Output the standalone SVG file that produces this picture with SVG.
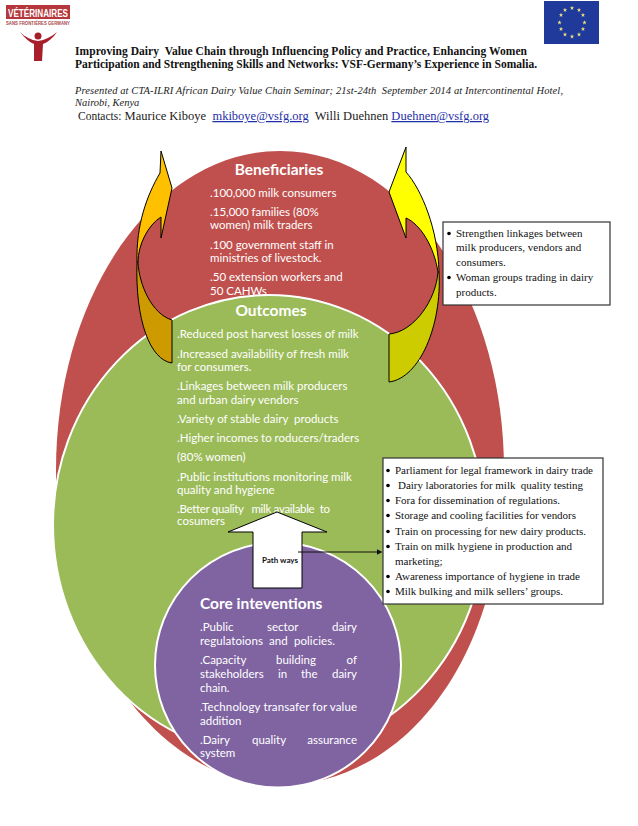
<svg xmlns="http://www.w3.org/2000/svg" width="638" height="826" viewBox="0 0 638 826">
<style>
text{white-space:pre}
.ti{font:bold 11.5px "Liberation Serif",serif;fill:#111}
.it{font:italic 10.5px "Liberation Serif",serif;fill:#222}
.co{font:12.500px "Liberation Serif",serif;fill:#222}
.ln{fill:#1f2fa8;text-decoration:underline}
.w{font:11.500px Lato,"Open Sans",sans-serif;fill:#fff}
.h{font:bold 15.500px Lato,"Open Sans",sans-serif;fill:#fff}
.b{font:11px "Liberation Serif",serif;fill:#111}
.ar{stroke:#000;stroke-width:1;stroke-linejoin:miter}
.box{fill:#fff;stroke:#333;stroke-width:1.2}
</style>
<defs><polygon id="s" points="0,-2.2 .6,-.7 2.1,-.7 .9,.3 1.4,1.9 0,.9 -1.4,1.9 -.9,.3 -2.1,-.7 -.6,-.7" fill="#e8dc80"/></defs>
<rect width="638" height="826" fill="#fff"/>
<g id="logo">
<rect x="6" y="5" width="64" height="14" fill="#b5373c"/>
<text x="8" y="16.500" textLength="60" lengthAdjust="spacingAndGlyphs" style="font:bold 11px 'Liberation Sans',sans-serif;fill:#fff">VÉTÉRINAIRES</text>
<text x="6" y="25" textLength="64" lengthAdjust="spacingAndGlyphs" style="font:bold 4.500px 'Liberation Sans',sans-serif;fill:#a8484c">SANS FRONTIÈRES GERMANY</text>
<circle cx="38" cy="36" r="3.500" fill="#a81e2a"/>
<path d="M20 32 C27 41 32 43 34 44 L34 61 L42 61 L43 44 C48 42 53 38 57 32 C51 37 45 40 38 41 C31 40 25 37 20 32Z" fill="#a81e2a"/>
</g>
<g id="flag">
<rect x="544" y="1" width="55" height="43" fill="#1f3a9a"/>
<use href="#s" x="572" y="8"/><use href="#s" x="579" y="10"/><use href="#s" x="583" y="15"/><use href="#s" x="584.500" y="22.500"/><use href="#s" x="583" y="29"/><use href="#s" x="579" y="34.500"/><use href="#s" x="572" y="36.500"/><use href="#s" x="565" y="34.500"/><use href="#s" x="561" y="29"/><use href="#s" x="559.500" y="22.500"/><use href="#s" x="561" y="15"/><use href="#s" x="565" y="10"/>
</g>
<g id="header">
<text class="ti" x="75" y="55" textLength="452">Improving Dairy  Value Chain through Influencing Policy and Practice, Enhancing Women</text>
<text class="ti" x="75" y="68" textLength="462">Participation and Strengthening Skills and Networks: VSF-Germany’s Experience in Somalia.</text>
<text class="it" x="75" y="94" textLength="488">Presented at CTA-ILRI African Dairy Value Chain Seminar; 21st-24th  September 2014 at Intercontinental Hotel,</text>
<text class="it" x="75" y="106">Nairobi, Kenya</text>
<text class="co" x="78" y="120"><tspan style="font-size:11.500px">Contacts:</tspan> Maurice Kiboye  <tspan class="ln">mkiboye@vsfg.org</tspan>  Willi Duehnen <tspan class="ln">Duehnen@vsfg.org</tspan></text>
</g>
<g id="beneficiaries-circle"><path d="M280 151 C404 151 504 294 504 470 C504 665 400 785 280 785 C165 785 56 650 56 470 C56 294 156 151 280 151Z" fill="#c0504d"/></g>
<g id="outcomes-circle"><ellipse cx="269" cy="525" rx="216" ry="230" fill="#9bbb59" stroke="#fff" stroke-width="2"/></g>
<g id="arrow-left">
<path class="ar" fill="#ffc000" d="M161 151 L172 188 L161 238 L161 217 C148 225 138 245 138 262 L137 262 C136 225 147 195 160 173 Z"/>
<path class="ar" fill="#cd9a00" d="M138 262 C139 285 152 314 172 320 L172 363 C150 360 135 320 137 262 Z"/>
</g>
<g id="arrow-right">
<path class="ar" fill="#ffff00" d="M406 147 L406 172 C422 190 438 230 439 272 L438 272 C434 246 420 224 406 218 L406 238 L389 192 Z"/>
<path class="ar" fill="#cccc00" d="M438 272 C436 300 414 332 389 334 L389 382 C420 378 442 325 439 272 Z"/>
</g>
<g id="core-circle"><ellipse cx="278" cy="665" rx="123" ry="122.500" fill="#8064a2" stroke="#fff" stroke-width="2"/></g>
<g id="beneficiaries-text">
<text class="h" x="279" y="175" text-anchor="middle">Beneficiaries</text>
<text class="w" x="210" y="197">.100,000 milk consumers</text>
<text class="w" x="210" y="216">.15,000 families (80%</text>
<text class="w" x="210" y="229">women) milk traders</text>
<text class="w" x="210" y="249">.100 government staff in</text>
<text class="w" x="210" y="262">ministries of livestock.</text>
<text class="w" x="210" y="281">.50 extension workers and</text>
<text class="w" x="210" y="295">50 CAHWs</text>
</g>
<g id="outcomes-text">
<text class="h" x="271" y="316" text-anchor="middle">Outcomes</text>
<text class="w" x="177" y="338">.Reduced post harvest losses of milk</text>
<text class="w" x="177" y="358">.Increased availability of fresh milk</text>
<text class="w" x="177" y="371">for consumers.</text>
<text class="w" x="177" y="390">.Linkages between milk producers</text>
<text class="w" x="177" y="404">and urban dairy vendors</text>
<text class="w" x="177" y="423">.Variety of stable dairy  products</text>
<text class="w" x="177" y="442">.Higher incomes to roducers/traders</text>
<text class="w" x="177" y="461">(80% women)</text>
<text class="w" x="177" y="481">.Public institutions monitoring milk</text>
<text class="w" x="177" y="494">quality and hygiene</text>
<text class="w" x="177" y="513" textLength="153">.Better quality   milk available  to</text>
<text class="w" x="177" y="525">cosumers</text>
</g>
<g id="pathways">
<path d="M277 512 L327 532 H302 V588 H253 V532 H228 Z" fill="#fff" stroke="#000" stroke-width="1"/>
<text x="280" y="563" text-anchor="middle" style="font:bold 8px Lato,sans-serif;fill:#111">Path ways</text>
</g>
<g id="core-text">
<text class="h" x="200" y="609">Core inteventions</text>
<text class="w" x="200" y="631">.Public</text><text class="w" x="267" y="631">sector</text><text class="w" x="357" y="631" text-anchor="end">dairy</text>
<text class="w" x="200" y="645" textLength="135">regulatoions  and  policies.</text>
<text class="w" x="200" y="664">.Capacity</text><text class="w" x="276" y="664">building</text><text class="w" x="357" y="664" text-anchor="end">of</text>
<text class="w" x="200" y="678">stakeholders</text><text class="w" x="278" y="678">in</text><text class="w" x="301" y="678">the</text><text class="w" x="357" y="678" text-anchor="end">dairy</text>
<text class="w" x="200" y="692">chain.</text>
<text class="w" x="200" y="711" textLength="157">.Technology transafer for value</text>
<text class="w" x="200" y="725">addition</text>
<text class="w" x="200" y="744">.Dairy</text><text class="w" x="252" y="744">quality</text><text class="w" x="357" y="744" text-anchor="end">assurance</text>
<text class="w" x="200" y="757">system</text>
</g>
<g id="box-top">
<rect class="box" x="443" y="222" width="167" height="83"/>
<g fill="#000"><circle cx="449" cy="233.500" r="1.800"/><circle cx="449" cy="277.500" r="1.800"/></g>
<text class="b" x="456" y="237">Strengthen linkages between</text>
<text class="b" x="456" y="251">milk producers, vendors and</text>
<text class="b" x="456" y="266">consumers.</text>
<text class="b" x="456" y="281">Woman groups trading in dairy</text>
<text class="b" x="456" y="296">products.</text>
</g>
<g id="box-right">
<rect class="box" x="383" y="458" width="220" height="146"/>
<g fill="#000"><circle cx="388" cy="470.500" r="1.800"/><circle cx="388" cy="485.500" r="1.800"/><circle cx="388" cy="500.500" r="1.800"/><circle cx="388" cy="515.500" r="1.800"/><circle cx="388" cy="531.500" r="1.800"/><circle cx="388" cy="546.500" r="1.800"/><circle cx="388" cy="576.500" r="1.800"/><circle cx="388" cy="591.500" r="1.800"/></g>
<text class="b" x="395" y="474" textLength="198">Parliament for legal framework in dairy trade</text>
<text class="b" x="398" y="489" textLength="185">Dairy laboratories for milk  quality testing</text>
<text class="b" x="395" y="504" textLength="165">Fora for dissemination of regulations.</text>
<text class="b" x="395" y="519" textLength="181">Storage and cooling facilities for vendors</text>
<text class="b" x="395" y="535" textLength="191">Train on processing for new dairy products.</text>
<text class="b" x="395" y="550" textLength="177">Train on milk hygiene in production and</text>
<text class="b" x="395" y="565">marketing;</text>
<text class="b" x="395" y="580" textLength="185">Awareness importance of hygiene in trade</text>
<text class="b" x="395" y="595" textLength="168">Milk bulking and milk sellers’ groups.</text>
</g>
<g id="connectors">
<path d="M298 552 H377" stroke="#111" stroke-width="1" fill="none"/>
<polygon points="377,549.300 382.500,552 377,554.700" fill="#111"/>
</g>
</svg>
